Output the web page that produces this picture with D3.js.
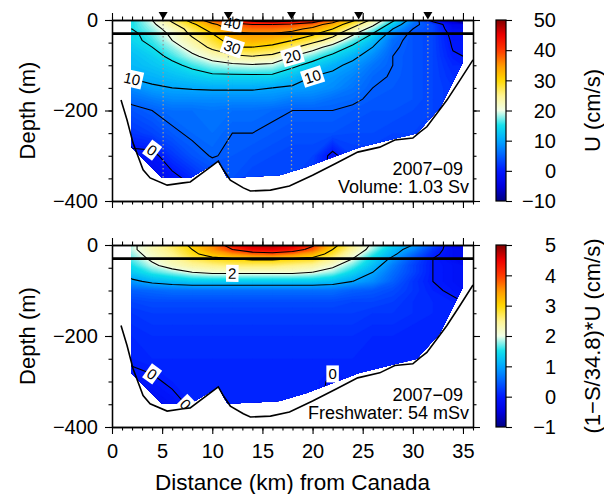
<!DOCTYPE html>
<html>
<head>
<meta charset="utf-8">
<script src="https://cdn.jsdelivr.net/npm/d3@7"></script>
<style>
  body { margin: 0; background: #fff; }
  svg { font-family: "Liberation Sans", Arial, Helvetica, sans-serif; }
</style>
</head>
<body>
<svg id="chart" width="604" height="494"></svg>
<script>
// grid columns (km from Canada) and rows (depth, m)
const distanceKm = [2, 4, 6, 8, 10, 12, 14, 16, 18, 20, 22, 24, 26, 28, 30, 32, 34];
const depthM = [0, 10, 20, 30, 45, 60, 80, 100, 125, 150, 175, 200, 250, 300, 350];

// along-channel velocity U (cm/s), one row per depth
const velocity = [
  [15, 20, 26, 32, 38, 44, 47, 48, 47, 44, 38, 31, 24, 16, 8, -2, -8],
  [15, 19, 24, 29, 34, 38, 40, 40, 39, 37, 33, 27, 21, 13, 6, 3, -3],
  [15, 18, 22, 27, 32, 36, 37, 37, 36, 34, 30, 24, 18, 10, 5, 3, -2],
  [14, 17, 21, 26, 30, 34, 35, 35, 34, 31, 27, 21, 15, 8, 4, 3, -1],
  [14, 16, 20, 24, 28, 32, 33, 32, 30, 27, 23, 17, 12, 6, 4, 3, -0.5],
  [13, 15, 18, 22, 26, 30, 30, 29, 26, 22, 18, 14, 10, 5.5, 4, 3, -0.2],
  [12, 13.5, 16, 19, 22, 24, 25, 24, 20, 17, 14, 11, 8, 5, 4, 3, 0.3],
  [11.5, 12.5, 14, 16, 18, 19, 19.5, 19, 16, 13.5, 11, 9, 6.5, 5, 4, 3, 1],
  [10.5, 11, 12, 13, 14, 14, 14, 14, 12, 10, 9, 7.5, 5.5, 4.8, 4, 3, 1.5],
  [8, 9.5, 10, 10.3, 10.5, 10.5, 10.5, 10, 9.5, 9, 8, 6.5, 5, 4.5, 4, 3, 2],
  [6, 7, 8, 8, 8, 8, 8, 8, 7, 7, 6, 5.5, 4.5, 4, 4, 3, 2],
  [4, 5, 6, 6, 6.5, 6, 6, 5.5, 5, 5, 5, 4.5, 4, 4, 3.5, 3, 2],
  [2, 3, 4.5, 5.5, 6, 5, 5, 4.5, 4, 4, 4, 3.5, 3.5, 3, 3, 2, 2],
  [-1, -1, 2, 4, 5.2, 4.5, 4, 3.5, 3, 3, -1, 2.5, 2.5, 2, 2, 2, 2],
  [-2, -3, -1, 1, 3, 4, 3, 3, 3, 2, -1, 1, 2, 2, 2, 2, 2]
];

// freshwater flux (1-S/34.8)*U (cm/s), one row per depth
const freshwater = [
  [1.9, 2.3, 2.7, 3.1, 3.6, 4.3, 4.7, 4.8, 4.6, 4.1, 3.2, 2.5, 1.9, 1.4, 1.0, 0.4, -0.3],
  [1.9, 2.3, 2.6, 3.0, 3.5, 4.0, 4.4, 4.5, 4.3, 3.8, 3.0, 2.4, 1.8, 1.2, 0.8, 0.2, -0.2],
  [1.8, 2.2, 2.5, 2.9, 3.2, 3.5, 3.7, 3.8, 3.6, 3.3, 2.8, 2.2, 1.6, 1.1, 0.6, 0.1, -0.2],
  [1.7, 2.1, 2.4, 2.7, 2.9, 3.0, 3.1, 3.1, 3.0, 2.9, 2.5, 2.0, 1.4, 0.9, 0.4, 0.0, -0.2],
  [1.5, 1.9, 2.2, 2.4, 2.5, 2.6, 2.6, 2.6, 2.5, 2.4, 2.1, 1.7, 1.2, 0.7, 0.3, 0.0, -0.1],
  [1.3, 1.6, 1.8, 2.0, 2.1, 2.1, 2.1, 2.1, 2.1, 2.0, 1.8, 1.4, 1.0, 0.6, 0.3, 0.0, -0.1],
  [0.9, 1.1, 1.2, 1.3, 1.3, 1.3, 1.3, 1.3, 1.3, 1.3, 1.2, 1.0, 0.8, 0.5, 0.2, 0.0, -0.1],
  [0.5, 0.55, 0.6, 0.6, 0.6, 0.6, 0.6, 0.6, 0.6, 0.6, 0.6, 0.5, 0.45, 0.35, 0.2, 0.05, -0.05],
  [0.3, 0.35, 0.35, 0.35, 0.35, 0.35, 0.35, 0.35, 0.35, 0.35, 0.35, 0.3, 0.3, 0.25, 0.15, 0.1, 0.05],
  [0.2, 0.25, 0.25, 0.25, 0.25, 0.25, 0.25, 0.25, 0.25, 0.25, 0.25, 0.25, 0.2, 0.2, 0.15, 0.1, 0.1],
  [0.15, 0.2, 0.2, 0.2, 0.2, 0.2, 0.2, 0.2, 0.2, 0.2, 0.2, 0.2, 0.15, 0.15, 0.1, 0.1, 0.1],
  [0.1, 0.15, 0.15, 0.15, 0.15, 0.15, 0.15, 0.15, 0.15, 0.15, 0.15, 0.15, 0.1, 0.1, 0.1, 0.1, 0.1],
  [0.05, 0.1, 0.1, 0.1, 0.1, 0.1, 0.1, 0.1, 0.1, 0.1, 0.1, 0.1, 0.1, 0.1, 0.1, 0.1, 0.1],
  [-0.1, -0.05, 0.05, 0.1, 0.1, 0.1, 0.1, 0.1, 0.1, 0.1, -0.05, 0.1, 0.1, 0.1, 0.1, 0.1, 0.1],
  [-0.2, -0.2, -0.1, 0.05, 0.1, 0.1, 0.1, 0.1, 0.1, 0.1, -0.1, 0.0, 0.1, 0.1, 0.1, 0.1, 0.1]
];

// bottom depth along the section [km, m]
const bathymetry = [
  [0.9, -177], [1.5, -221], [2.1, -272], [3.1, -331], [3.8, -349], [5.5, -365],
  [7.1, -360], [7.8, -358], [9.8, -325], [10.6, -312], [11.1, -331], [11.8, -354],
  [13.1, -371], [13.8, -378], [15.8, -376], [17.7, -367], [20.0, -343], [22.4, -316],
  [24.5, -292], [26.7, -281], [28.2, -265], [30.0, -261], [30.7, -248], [31.4, -236],
  [33.4, -177], [34.7, -133], [36.0, -88]
];

// outline of the sampled part of the section [km, m]
const dataEdge = [
  [1.9, 0], [1.9, -281], [5.0, -349], [7.8, -349], [10.6, -312], [11.5, -349],
  [16.7, -343], [19.4, -325], [24.7, -281], [30.4, -250], [32.7, -194],
  [35.0, -93], [35.0, 0]
];

const stationsKm = [5.1, 11.6, 17.9, 24.6, 31.5];

const distanceTicks = [0, 5, 10, 15, 20, 25, 30, 35];
const depthTicks = [0, -200, -400];
const velocityTicks = [-10, 0, 10, 20, 30, 40, 50];
const freshTicks = [-1, 0, 1, 2, 3, 4, 5];
const velocityLevels = [0, 5, 10, 15, 20, 25, 30, 35, 40, 45];
const freshLevels = [0, 1, 2, 3, 4];
// contour labels: [level, km, depth]
const velocityLabels = [[40, 11.6, -8], [30, 12.0, -64], [20, 17.9, -77], [10, 2.7, -128], [10, 19.8, -126], [0, 3.6, -298]];
const freshLabels = [[2, 12.0, -66], [0, 3.8, -303], [0, 6.8, -347], [0, 21.7, -286]];

const jet = ['#000080', '#0000e0', '#0018ff', '#0060ff', '#00a8ff', '#10e0ec', '#f0ffe8',
  '#fff490', '#ffd800', '#ff9800', '#ff3800', '#ee0000', '#800000'];

const svg = d3.select('#chart');
const defs = svg.append('defs');
const x = d3.scaleLinear().domain([0, 36]).range([112, 473]);
const nx = distanceKm.length;
const ny = depthM.length;
const kmOfCol = d3.scaleLinear().domain(distanceKm.map((d, i) => i + 0.5)).range(distanceKm);
const depthOfRow = d3.scaleLinear().domain(depthM.map((d, i) => i + 0.5)).range(depthM.map(d => -d));

// turn a contour multipolygon into open lines, dropping the grid border
function isoLines(contour) {
  const lines = [];
  const border = (a, b) =>
    (a[0] === 0 && b[0] === 0) || (a[0] === nx && b[0] === nx) ||
    (a[1] === 0 && b[1] === 0) || (a[1] === ny && b[1] === ny);
  contour.coordinates.forEach(poly => poly.forEach(ring => {
    let cur = [];
    for (let k = 0; k < ring.length - 1; k++) {
      const a = ring[k], b = ring[k + 1];
      if (border(a, b)) {
        if (cur.length > 1) lines.push(cur);
        cur = [];
      } else {
        if (!cur.length) cur.push(a);
        cur.push(b);
      }
    }
    if (cur.length > 1) lines.push(cur);
  }));
  return lines;
}

function drawPanel(p) {
  const y = d3.scaleLinear().domain([0, -400]).range([p.top, p.bottom]);
  const g = svg.append('g');

  const clipId = 'clip-' + p.id;
  defs.append('clipPath').attr('id', clipId)
    .append('polygon')
    .attr('points', dataEdge.map(d => [x(d[0]), y(d[1])].join(',')).join(' '));
  const frameId = 'frame-' + p.id;
  defs.append('clipPath').attr('id', frameId)
    .append('rect')
    .attr('x', x(0)).attr('y', y(0))
    .attr('width', x(36) - x(0)).attr('height', y(-400) - y(0));

  const color = d3.scaleLinear()
    .domain(jet.map((c, k) => p.lo + k * (p.hi - p.lo) / (jet.length - 1)))
    .range(jet)
    .clamp(true);

  const toPx = (c, r) => [x(kmOfCol(c)), y(depthOfRow(r))];
  const path = d3.geoPath(d3.geoTransform({
    point(c, r) { const q = toPx(c, r); this.stream.point(q[0], q[1]); }
  }));

  const values = p.grid.flat();
  const bands = d3.contours().size([nx, ny])
    .thresholds(d3.range(p.lo, p.hi, p.step))(values);

  const field = g.append('g').attr('clip-path', `url(#${clipId})`);
  field.selectAll('path.band')
    .data(bands)
    .join('path')
    .attr('class', 'band')
    .attr('d', path)
    .attr('fill', d => color(d.value + p.step / 2))
    .attr('stroke', d => color(d.value + p.step / 2))
    .attr('stroke-width', 0.3);

  const line = d3.line();
  const levelLines = {};
  p.levels.forEach(level => {
    const contour = d3.contours().size([nx, ny]).thresholds([level])(values)[0];
    levelLines[level] = isoLines(contour).map(l => l.map(pt => toPx(pt[0], pt[1])));
    field.selectAll(null)
      .data(levelLines[level])
      .join('path')
      .attr('d', line)
      .attr('fill', 'none')
      .attr('stroke', '#000')
      .attr('stroke-width', 1.1);
  });

  // station casts
  if (p.stations) {
    const edgeDepth = d3.scaleLinear().domain(dataEdge.slice(1, -1).map(d => d[0]))
      .range(dataEdge.slice(1, -1).map(d => d[1]));
    g.selectAll('line.cast')
      .data(stationsKm)
      .join('line')
      .attr('class', 'cast')
      .attr('x1', d => x(d)).attr('x2', d => x(d))
      .attr('y1', y(0)).attr('y2', d => y(edgeDepth(d)))
      .attr('stroke', '#999')
      .attr('stroke-width', 1.3)
      .attr('stroke-dasharray', '1.5,2.5');
  }

  // contour labels
  p.labels.forEach(([level, km, depth]) => {
    const target = [x(km), y(depth)];
    let best = null;
    (levelLines[level] || []).forEach(l => l.forEach((pt, k) => {
      const dd = Math.hypot(pt[0] - target[0], pt[1] - target[1]);
      if (!best || dd < best.dd) best = { dd, l, k };
    }));
    if (!best || best.dd > 30) return;
    const { l, k } = best;
    const a = l[Math.max(0, k - 3)], b = l[Math.min(l.length - 1, k + 3)];
    let ang = Math.atan2(b[1] - a[1], b[0] - a[0]) * 180 / Math.PI;
    if (ang > 90) ang -= 180;
    if (ang < -90) ang += 180;
    const lg = g.append('g')
      .attr('transform', `translate(${l[k][0]},${l[k][1]}) rotate(${ang})`);
    const txt = String(level);
    const w = txt.length * 8.5 + 4;
    lg.append('rect')
      .attr('x', -w / 2).attr('y', -8.5)
      .attr('width', w).attr('height', 17)
      .attr('fill', '#fff');
    lg.append('text')
      .attr('text-anchor', 'middle')
      .attr('dy', '0.36em')
      .attr('font-size', 15)
      .text(txt);
  });

  // bottom topography
  g.append('path')
    .datum(bathymetry)
    .attr('clip-path', `url(#${frameId})`)
    .attr('d', d3.line().x(d => x(d[0])).y(d => y(d[1])))
    .attr('fill', 'none')
    .attr('stroke', '#000')
    .attr('stroke-width', 1.6);

  // 30 m reference line
  g.append('line')
    .attr('x1', x(0)).attr('x2', x(36))
    .attr('y1', y(-30)).attr('y2', y(-30))
    .attr('stroke', '#000')
    .attr('stroke-width', 2.6);

  if (p.stations) {
    g.selectAll('path.station')
      .data(stationsKm)
      .join('path')
      .attr('class', 'station')
      .attr('d', d => `M${x(d) - 4.5},${y(0) - 8}L${x(d) + 4.5},${y(0) - 8}L${x(d)},${y(0) - 0.5}Z`)
      .attr('fill', '#000');
  }

  // axes
  const minorX = d3.range(0, 37, 1);
  const minorY = d3.range(0, -401, -50);
  const axes = g.append('g').attr('class', 'axes');
  const addAxis = (axis, tr) => axes.append('g').attr('transform', tr).call(axis);
  addAxis(d3.axisLeft(y).tickValues(minorY).tickSize(3.5).tickSizeOuter(0).tickFormat(''), `translate(${x(0)},0)`);
  addAxis(d3.axisLeft(y).tickValues(depthTicks).tickSize(7).tickSizeOuter(0).tickPadding(7), `translate(${x(0)},0)`);
  addAxis(d3.axisRight(y).tickValues(minorY).tickSize(3.5).tickSizeOuter(0).tickFormat(''), `translate(${x(36)},0)`);
  addAxis(d3.axisRight(y).tickValues(depthTicks).tickSize(7).tickSizeOuter(0).tickFormat(''), `translate(${x(36)},0)`);
  addAxis(d3.axisTop(x).tickValues(minorX).tickSize(3.5).tickSizeOuter(0).tickFormat(''), `translate(0,${y(0)})`);
  addAxis(d3.axisTop(x).tickValues(distanceTicks).tickSize(7).tickSizeOuter(0).tickFormat(''), `translate(0,${y(0)})`);
  addAxis(d3.axisBottom(x).tickValues(minorX).tickSize(3.5).tickSizeOuter(0).tickFormat(''), `translate(0,${y(-400)})`);
  addAxis(d3.axisBottom(x).tickValues(distanceTicks).tickSize(7).tickSizeOuter(0).tickPadding(10)
    .tickFormat(p.xLabels ? d3.format('d') : ''), `translate(0,${y(-400)})`);
  axes.selectAll('.domain').attr('stroke-width', 1.3);
  axes.selectAll('.tick line').attr('stroke-width', 1.1);
  axes.selectAll('text').attr('font-size', 20).attr('fill', '#000')
    .style('font-family', '"Liberation Sans", Arial, sans-serif');

  g.append('text')
    .attr('transform', `translate(35,${(y(0) + y(-400)) / 2}) rotate(-90)`)
    .attr('text-anchor', 'middle')
    .attr('font-size', 22)
    .text('Depth (m)');

  // annotations
  g.append('text').attr('x', x(35)).attr('y', y(-343)).attr('text-anchor', 'end')
    .attr('font-size', 18).text(p.note[0]);
  g.append('text').attr('x', x(35.6)).attr('y', y(-383)).attr('text-anchor', 'end')
    .attr('font-size', 18).text(p.note[1]);

  // colour bar
  const cb = { x: 496, w: 10 };
  const cy = d3.scaleLinear().domain([p.lo, p.hi]).range([y(-400), y(0)]);
  const gradId = 'grad-' + p.id;
  const grad = defs.append('linearGradient').attr('id', gradId)
    .attr('x1', 0).attr('y1', 1).attr('x2', 0).attr('y2', 0);
  d3.range(0, 1.0001, 0.02).forEach(t => {
    grad.append('stop').attr('offset', t).attr('stop-color', color(p.lo + t * (p.hi - p.lo)));
  });
  g.append('rect')
    .attr('x', cb.x).attr('y', cy(p.hi))
    .attr('width', cb.w).attr('height', cy(p.lo) - cy(p.hi))
    .attr('fill', `url(#${gradId})`)
    .attr('stroke', '#000').attr('stroke-width', 1.2);
  const cbAxis = g.append('g').attr('transform', `translate(${cb.x + cb.w},0)`)
    .call(d3.axisRight(cy).tickValues(p.ticks).tickSize(6).tickSizeOuter(0).tickFormat(''));
  cbAxis.select('.domain').remove();
  cbAxis.selectAll('.tick line').attr('stroke-width', 1.1);
  g.selectAll(null)
    .data(p.ticks)
    .join('text')
    .attr('x', 556)
    .attr('y', d => cy(d))
    .attr('dy', '0.36em')
    .attr('text-anchor', 'end')
    .attr('font-size', 20)
    .text(d => d3.format('d')(d));
  g.append('text')
    .attr('transform', `translate(592,${(y(0) + y(-400)) / 2}) rotate(-90)`)
    .attr('text-anchor', 'middle')
    .attr('dy', '0.36em')
    .attr('font-size', 22)
    .text(p.title);
}

drawPanel({
  id: 'u', grid: velocity, lo: -10, hi: 50, step: 0.5,
  levels: velocityLevels, labels: velocityLabels,
  top: 20, bottom: 201, ticks: velocityTicks, title: 'U (cm/s)',
  note: ['2007\u221209', 'Volume: 1.03 Sv'], stations: true, xLabels: false
});
drawPanel({
  id: 'fw', grid: freshwater, lo: -1, hi: 5, step: 0.05,
  levels: freshLevels, labels: freshLabels,
  top: 245, bottom: 427, ticks: freshTicks, title: '(1\u2212S/34.8)*U (cm/s)',
  note: ['2007\u221209', 'Freshwater: 54 mSv'], stations: false, xLabels: true
});

svg.append('text')
  .attr('x', x(18))
  .attr('y', 490)
  .attr('text-anchor', 'middle')
  .attr('font-size', 22.5)
  .text('Distance (km) from Canada');
</script>
</body>
</html>
